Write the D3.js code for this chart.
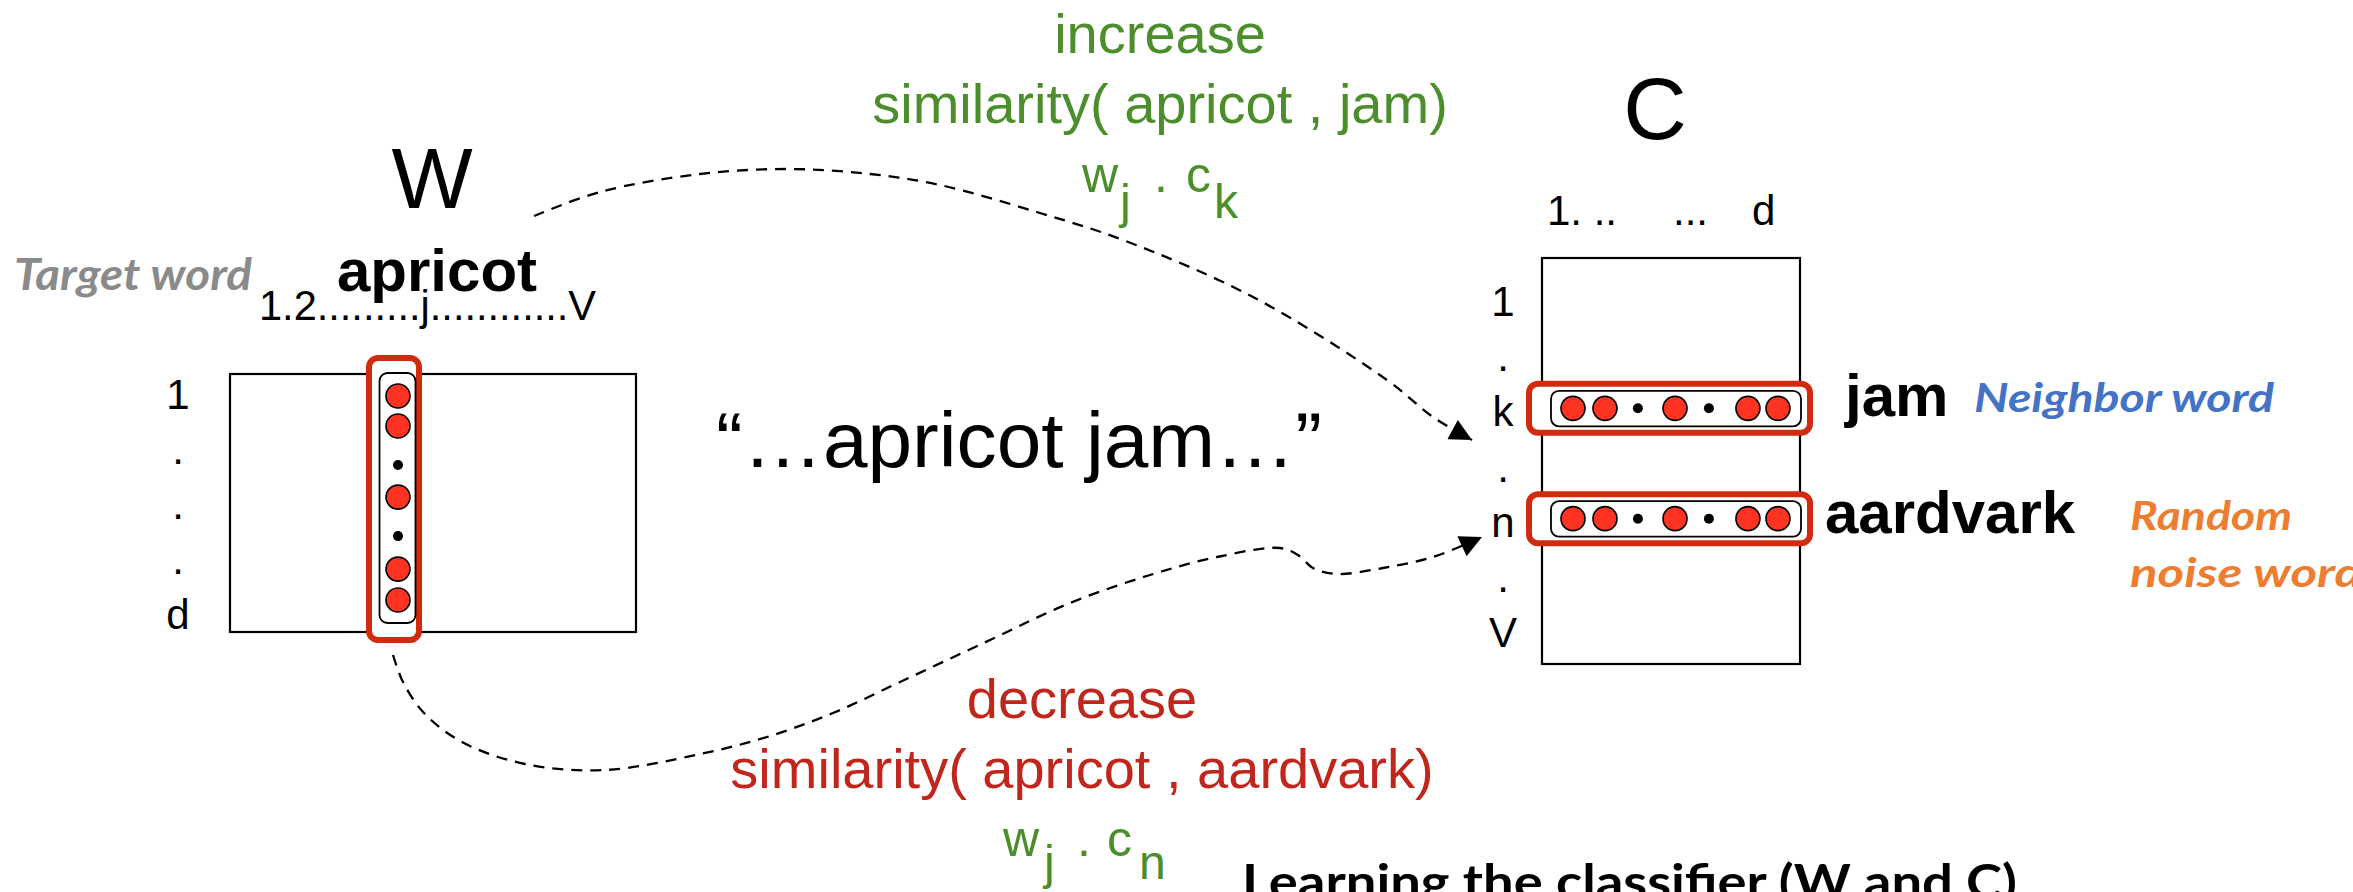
<!DOCTYPE html>
<html>
<head>
<meta charset="utf-8">
<script src="https://cdn.jsdelivr.net/npm/d3@7"></script>
<style>
  html, body { margin: 0; padding: 0; background: #ffffff; }
  svg { display: block; }
</style>
</head>
<body>
<script>
// ---------------- data ----------------
const wTitle = "W";
const cTitle = "C";
const targetWord = "apricot";
const wHeader = "1.2.........j............V";
const cHeaderParts = ["1. ..", "...", "d"];
const wRowLabels = ["1", ".", ".", ".", "d"];
const cRowLabels = ["1", ".", "k", ".", "n", ".", "V"];
const vectorCells = ["node", "node", "dot", "node", "dot", "node", "node"];
const wVectorPos = [0, 1, 2.3, 3.37, 4.67, 5.77, 6.8];
const cVectorPos = [0, 1, 2.03, 3.19, 4.25, 5.47, 6.41];
const contextWords = [
  { word: "jam", row: "k", note: ["Neighbor word"], noteColor: "#4472c4" },
  { word: "aardvark", row: "n", note: ["Random", "noise word"], noteColor: "#ed7d31" }
];
const quoteText = "\u201C\u2026apricot jam\u2026\u201D";
const increaseLines = ["increase", "similarity( apricot , jam)"];
const decreaseLines = ["decrease", "similarity( apricot , aardvark)"];
const dotTop = ["w", "j", ".", "c", "k"];
const dotBottom = ["w", "j", ".", "c", "n"];
const captionText = "Learning the classifier (W and C)";
const sideLabel = "Target word";
// curve guide points (path shapes of the two dashed arrows)
const posCurve = [[534,216],[600,192],[700,174],[790,169],[870,174],[940,185],[1040,213],[1123,240],[1253,297],[1387,380],[1433,417],[1472,440]];
const negCurve = [[393,655],[403,682],[424,713],[462,742],[525,764],[605,770],[700,754],[767,737],[833,713],[900,682],[990,640],[1070,603],[1150,575],[1217,557],[1280,548],[1298,555],[1313,568],[1336,574],[1383,568],[1433,557],[1482,537]];

// ---------------- setup ----------------
const W = 2353, H = 892;
const FONT = "'Liberation Sans', Arial, Helvetica, sans-serif";
const CAL = "Lato, 'Open Sans', 'Noto Sans', sans-serif";
const GREEN = "#4b8e2b", DARKRED = "#c0261b", BOXRED = "#d22a0e", NODE = "#ff3322";

const svg = d3.select("body").append("svg").attr("width", W).attr("height", H);
const defs = svg.append("defs");
defs.append("marker").attr("id", "arrow")
  .attr("viewBox", "0 0 10 10").attr("refX", 10).attr("refY", 5)
  .attr("markerUnits", "userSpaceOnUse").attr("markerWidth", 27).attr("markerHeight", 22)
  .attr("orient", "auto")
  .append("path").attr("d", "M0,0 L10,5 L0,10 z").attr("fill", "#000");

// ---------------- W matrix ----------------
const wBox = { x0: 230, x1: 636, y0: 374, y1: 632 };
svg.append("rect").attr("x", wBox.x0).attr("y", wBox.y0)
  .attr("width", wBox.x1 - wBox.x0).attr("height", wBox.y1 - wBox.y0)
  .attr("fill", "#fff").attr("stroke", "#000").attr("stroke-width", 2.2);

svg.append("text").attr("x", 432).attr("y", 208).attr("text-anchor", "middle")
  .attr("font-family", FONT).attr("font-size", 86).text(wTitle);

svg.append("text").attr("x", 14).attr("y", 290).attr("font-family", CAL)
  .attr("font-style", "italic").attr("font-weight", 700).attr("font-size", 44)
  .attr("fill", "#8a8a8a").attr("textLength", 238).attr("lengthAdjust", "spacingAndGlyphs")
  .text(sideLabel);

svg.append("text").attr("x", 337).attr("y", 291).attr("font-family", FONT)
  .attr("font-weight", 700).attr("font-size", 60).text(targetWord);

svg.append("text").attr("x", 259).attr("y", 320).attr("font-family", FONT)
  .attr("font-size", 42).attr("textLength", 337).attr("lengthAdjust", "spacingAndGlyphs")
  .text(wHeader);

const wRowY = d3.scalePoint().domain(d3.range(wRowLabels.length)).range([409, 629]);
svg.append("g").selectAll("text").data(wRowLabels).join("text")
  .attr("x", 178).attr("y", (d, i) => wRowY(i)).attr("text-anchor", "middle")
  .attr("font-family", FONT).attr("font-size", 42).text(d => d);

// column highlight
svg.append("rect").attr("x", 369).attr("y", 358).attr("width", 50).attr("height", 282)
  .attr("rx", 9).attr("fill", "#fff").attr("stroke", BOXRED).attr("stroke-width", 6);
svg.append("rect").attr("x", 379.5).attr("y", 373).attr("width", 36).attr("height", 250)
  .attr("rx", 8).attr("fill", "#fff").attr("stroke", "#000").attr("stroke-width", 1.8);
const wVecY = d3.scaleLinear().domain([0, 6.8]).range([396, 600]);
const wVec = svg.append("g");
vectorCells.forEach((t, i) => {
  wVec.append("circle").attr("cx", 398).attr("cy", wVecY(wVectorPos[i]))
    .attr("r", t === "node" ? 12 : 5)
    .attr("fill", t === "node" ? NODE : "#000")
    .attr("stroke", "#000").attr("stroke-width", t === "node" ? 1.6 : 0);
});

// ---------------- C matrix ----------------
const cBox = { x0: 1542, x1: 1800, y0: 258, y1: 664 };
svg.append("rect").attr("x", cBox.x0).attr("y", cBox.y0)
  .attr("width", cBox.x1 - cBox.x0).attr("height", cBox.y1 - cBox.y0)
  .attr("fill", "#fff").attr("stroke", "#000").attr("stroke-width", 2.2);

svg.append("text").attr("x", 1655).attr("y", 139).attr("text-anchor", "middle")
  .attr("font-family", FONT).attr("font-size", 88).text(cTitle);

const cHeadX = [1547, 1673, 1752];
svg.append("g").selectAll("text").data(cHeaderParts).join("text")
  .attr("x", (d, i) => cHeadX[i]).attr("y", 225)
  .attr("font-family", FONT).attr("font-size", 42).text(d => d);

const cRowY = d3.scalePoint().domain(d3.range(cRowLabels.length)).range([316, 647]);
svg.append("g").selectAll("text").data(cRowLabels).join("text")
  .attr("x", 1503).attr("y", (d, i) => cRowY(i)).attr("text-anchor", "middle")
  .attr("font-family", FONT).attr("font-size", 42).text(d => d);

const cVecX = d3.scaleLinear().domain([0, 6.41]).range([1573, 1778]);
contextWords.forEach((cw, k) => {
  const rowIdx = cRowLabels.indexOf(cw.row);
  const cy = cRowY(rowIdx) - 18; // vertical centre of the row band
  const g = svg.append("g");
  g.append("rect").attr("x", 1529).attr("y", cy - 24.5).attr("width", 281).attr("height", 49)
    .attr("rx", 9).attr("fill", "#fff").attr("stroke", BOXRED).attr("stroke-width", 6);
  g.append("rect").attr("x", 1551).attr("y", cy - 17.5).attr("width", 250).attr("height", 35.5)
    .attr("rx", 8).attr("fill", "#fff").attr("stroke", "#000").attr("stroke-width", 1.8);
  vectorCells.forEach((t, i) => {
    g.append("circle").attr("cx", cVecX(cVectorPos[i])).attr("cy", cy)
      .attr("r", t === "node" ? 12 : 5)
      .attr("fill", t === "node" ? NODE : "#000")
      .attr("stroke", "#000").attr("stroke-width", t === "node" ? 1.6 : 0);
  });
  g.append("text").attr("x", k === 0 ? 1845 : 1825).attr("y", cy + (k === 0 ? 8 : 14))
    .attr("font-family", FONT).attr("font-weight", 700).attr("font-size", 60).text(cw.word);
});
// side notes
svg.append("text").attr("x", 1974).attr("y", 412).attr("font-family", CAL)
  .attr("font-style", "italic").attr("font-weight", 700).attr("font-size", 41)
  .attr("fill", contextWords[0].noteColor).attr("textLength", 300).attr("lengthAdjust", "spacingAndGlyphs")
  .text(contextWords[0].note[0]);
const noteLens = [162, 232];
contextWords[1].note.forEach((line, i) => {
  svg.append("text").attr("x", 2130).attr("y", 530 + i * 57).attr("font-family", CAL)
    .attr("font-style", "italic").attr("font-weight", 700).attr("font-size", 41)
    .attr("fill", contextWords[1].noteColor).attr("textLength", noteLens[i]).attr("lengthAdjust", "spacingAndGlyphs")
    .text(line);
});

// ---------------- middle quote ----------------
svg.append("text").attr("x", 716).attr("y", 467).attr("font-family", FONT)
  .attr("font-size", 78).attr("textLength", 606).attr("lengthAdjust", "spacingAndGlyphs")
  .text(quoteText);

// ---------------- curves ----------------
const line = d3.line().curve(d3.curveCatmullRom.alpha(0.5));
[posCurve, negCurve].forEach(pts => {
  svg.append("path").attr("d", line(pts)).attr("fill", "none")
    .attr("stroke", "#000").attr("stroke-width", 2.3)
    .attr("stroke-dasharray", "11,8").attr("marker-end", "url(#arrow)");
});

// ---------------- green / red annotations ----------------
const incY = [53, 123];
increaseLines.forEach((t, i) => {
  svg.append("text").attr("x", 1160).attr("y", incY[i]).attr("text-anchor", "middle")
    .attr("font-family", FONT).attr("font-size", 56).attr("fill", GREEN).text(t);
});
const decY = [718, 788];
decreaseLines.forEach((t, i) => {
  svg.append("text").attr("x", 1082).attr("y", decY[i]).attr("text-anchor", "middle")
    .attr("font-family", FONT).attr("font-size", 56).attr("fill", DARKRED).text(t);
});

function dotProduct(parts, xs, base, subDy) {
  const g = svg.append("g").attr("fill", GREEN).attr("font-family", FONT);
  parts.forEach((p, i) => {
    const sub = (i === 1 || i === 4);
    g.append("text").attr("x", xs[i]).attr("y", base + (sub ? subDy : 0))
      .attr("font-size", sub ? 48 : 50).text(p);
  });
}
dotProduct(dotTop, [1082, 1120, 1154, 1186, 1214], 192, 26);
dotProduct(dotBottom, [1003, 1044, 1077, 1107, 1139], 856, 23);

// ---------------- caption ----------------
svg.append("text").attr("x", 1242).attr("y", 899).attr("font-family", CAL)
  .attr("font-weight", 700).attr("font-size", 48)
  .attr("textLength", 775).attr("lengthAdjust", "spacingAndGlyphs")
  .text(captionText);
</script>
</body>
</html>
